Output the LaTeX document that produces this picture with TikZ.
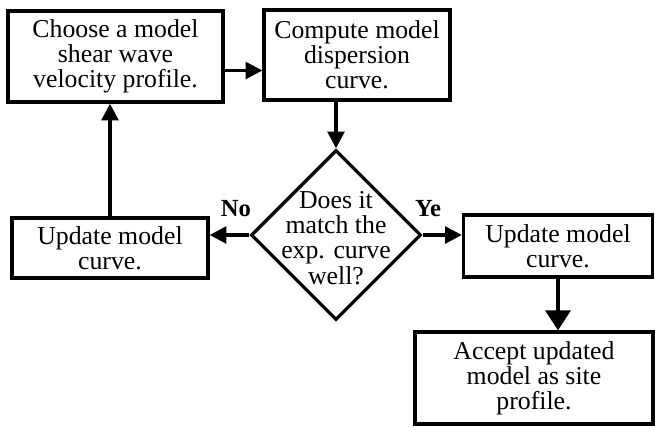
\documentclass[tikz,border=0pt]{standalone}
\usepackage{fontspec}
\setmainfont{Liberation Serif}
\usepackage{tikz}
\usetikzlibrary{arrows.meta,positioning,shapes.geometric,calc}
\tikzset{
  box/.style={draw=black, line width=2.8pt, align=center, fill=white, inner sep=1mm, font=\fontsize{22}{21.5}\selectfont},
  decision/.style={box, shape=diamond, minimum size=5.1cm, inner sep=0pt, aspect=1},
  lbl/.style={font=\fontsize{21}{21}\selectfont\bfseries, inner sep=0pt},
  arrow/.style={-{Triangle[length=5mm,width=5mm]}, line width=2.8pt, draw=black},
  bigarrow/.style={-{Triangle[length=6mm,width=7.5mm]}, line width=2.8pt, draw=black}
}
\begin{document}
\begin{tikzpicture}
  \useasboundingbox (0,0) rectangle (19.65,-12.78);
  \node[box, minimum width=6.45cm, minimum height=2.73cm] (choose) at (3.465,-1.695) {Choose a model\\shear wave\\velocity profile.};
  \node[box, minimum width=5.58cm, minimum height=2.7cm] (compute) at (10.71,-1.65) {Compute model\\dispersion\\curve.};
  \node[decision] (match) at (10.08,-7.05) {\makebox[0pt]{\raisebox{-0.37cm}[0pt][0pt]{\begin{tabular}{@{}c@{}}Does it\\match the\\exp. curve\\well?\end{tabular}}}};
  \node[box, minimum width=5.88cm, minimum height=1.8cm] (updL) at (3.3,-7.44) {Update model\\curve.};
  \node[box, minimum width=5.67cm, minimum height=1.86cm] (updR) at (16.74,-7.38) {Update model\\curve.};
  \node[box, minimum width=7.14cm, minimum height=2.76cm] (accept) at (16.02,-11.34) {Accept updated\\model as site\\profile.};
  \node[lbl] (no) at (7.08,-6.27) {No};
  \node[lbl] (ye) at (12.84,-6.27) {Ye};
  \draw[arrow] ([yshift=-0.42cm]choose.east) -- ([yshift=-0.42cm]choose.east -| compute.west);
  \draw[arrow] (match.north |- compute.south) -- (match.north);
  \draw[arrow] (match.west) -- (match.west -| updL.east);
  \draw[arrow] (match.east) -- (match.east -| updR.west);
  \draw[arrow] (updL.north) -- (updL.north |- choose.south);
  \draw[bigarrow] (updR.south) -- (updR.south |- accept.north);
\end{tikzpicture}
\end{document}
